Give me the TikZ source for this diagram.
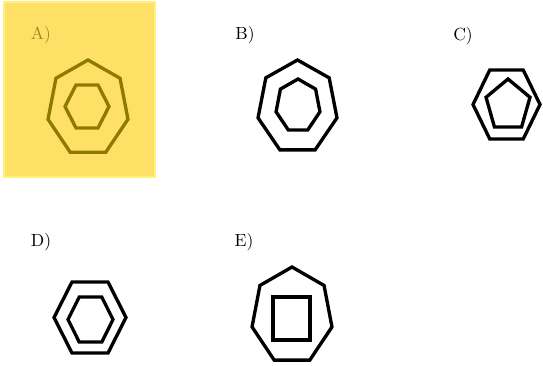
\documentclass[tikz,border=0pt]{standalone}
\usepackage{tikz}
\usetikzlibrary{positioning}

\definecolor{hiyellow}{HTML}{FFE066}
\definecolor{hiedge}{HTML}{FFF27A}
\definecolor{olive}{HTML}{8F7A00}
\definecolor{olivetext}{HTML}{A08A28}

% polygon path: sides, start angle, cx, cy, rx, ry
\newcommand{\ngon}[6]{plot[domain=0:{360-360/#1}, samples=#1, variable=\t] ({#3+#5*cos(#2+\t)}, {#4+#6*sin(#2+\t)}) -- cycle}

\begin{document}
\begin{tikzpicture}[
        x=0.02cm, y=-0.02cm,
        figline/.style={line width=1.9pt, line join=miter},
        optlabel/.style={font=\fontsize{10}{12}\selectfont, inner sep=0pt},
    ]
        \useasboundingbox (0,0) rectangle (543,365);

        % Highlighted answer
        \draw[hiedge, fill=hiyellow, line width=1.2pt] (4,2) rectangle (155,177);

        % Labels
        \node[optlabel, text=olivetext] (labA) at (41,35) {A)};
        \node[optlabel] (labB) at (245,35) {B)};
        \node[optlabel] (labC) at (463,36) {C)};
        \node[optlabel] (labD) at (41,242) {D)};
        \node[optlabel] (labE) at (244,242) {E)};

        % A
        \draw[figline, olive] \ngon{7}{270}{88}{108.5}{41}{48.5};
        \draw[figline, olive] \ngon{6}{0}{87}{106.5}{22}{24.8};

        % B
        \draw[figline] \ngon{7}{270}{297.5}{107.3}{40.5}{47.3};
        \draw[figline] \ngon{7}{270}{298}{105.8}{22.5}{26.8};

        % C
        \draw[figline] \ngon{6}{0}{506.5}{104.5}{33.5}{39.8};
        \draw[figline] \ngon{5}{270}{508}{105.5}{23.1}{26.5};

        % D
        \draw[figline] \ngon{6}{0}{90}{317.5}{36}{41};
        \draw[figline] \ngon{6}{0}{90.5}{319.5}{22.5}{26};

        % E
        \draw[figline] \ngon{7}{270}{292}{316}{41}{49};
        \draw[figline] (273,297) rectangle (310,340);
    \end{tikzpicture}
\end{document}
